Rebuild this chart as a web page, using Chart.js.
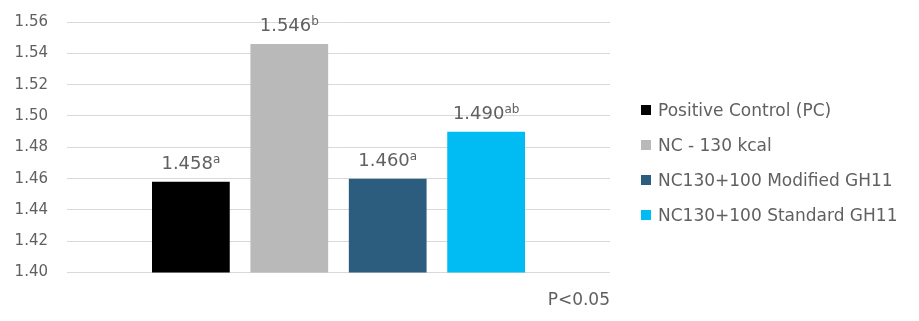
<!DOCTYPE html>
<html>
<head>
<meta charset="utf-8">
<script src="https://cdn.jsdelivr.net/npm/chart.js@4/dist/chart.umd.min.js"></script>
<style>
html,body{margin:0;padding:0;background:#fff;}
#wrap{width:919px;height:321px;position:relative;}
#legend{position:absolute;left:641px;top:0;font-family:'DejaVu Sans',sans-serif;font-size:17px;color:#606060;}
#legend .row{position:absolute;left:0;height:22px;line-height:22px;white-space:nowrap;}
#legend .sw{position:absolute;left:0;top:6px;width:10px;height:10px;}
#legend .tx{position:absolute;left:17px;top:0;}
</style>
</head>
<body>
<div id="wrap"><canvas id="c" width="919" height="321"></canvas><div id="legend"></div></div>
<script>
const categories = [''];
const seriesNames = ['Positive Control (PC)', 'NC - 130 kcal', 'NC130+100 Modified GH11', 'NC130+100 Standard GH11'];
const seriesValues = [1.458, 1.546, 1.460, 1.490];
const seriesLetters = ['a', 'b', 'a', 'ab'];
const seriesColors = ['#000000', '#b9b9b9', '#2c5d7f', '#00bcf2'];
const yTicks = [1.40, 1.42, 1.44, 1.46, 1.48, 1.50, 1.52, 1.54, 1.56];
const noteText = 'P<0.05';

const FONT = "'DejaVu Sans', sans-serif";
const GREY = '#606060';

// legend (HTML text)
const leg = document.getElementById('legend');
seriesNames.forEach((n, i) => {
  const r = document.createElement('div');
  r.className = 'row';
  r.style.top = (99 + i * 35) + 'px';
  const s = document.createElement('span');
  s.className = 'sw';
  s.style.background = seriesColors[i];
  const t = document.createElement('span');
  t.className = 'tx';
  t.textContent = n;
  r.appendChild(s); r.appendChild(t);
  leg.appendChild(r);
});

const labelPlugin = {
  id: 'valueLabels',
  afterDatasetsDraw(chart) {
    const ctx = chart.ctx;
    ctx.save();
    chart.data.datasets.forEach((ds, i) => {
      const meta = chart.getDatasetMeta(i);
      const el = meta.data[0];
      if (!el) return;
      const main = seriesValues[i].toFixed(3);
      const sup = seriesLetters[i];
      ctx.font = '18px ' + FONT;
      const w1 = ctx.measureText(main).width;
      ctx.font = '12px ' + FONT;
      const w2 = ctx.measureText(sup).width;
      const total = w1 + w2;
      const x0 = el.x - total / 2;
      const yb = el.y - 13;
      ctx.fillStyle = GREY;
      ctx.textBaseline = 'alphabetic';
      ctx.textAlign = 'left';
      ctx.font = '18px ' + FONT;
      ctx.fillText(main, x0, yb);
      ctx.font = '12px ' + FONT;
      ctx.fillText(sup, x0 + w1, yb - 6);
    });
    ctx.restore();
  }
};

new Chart(document.getElementById('c'), {
  type: 'bar',
  data: {
    labels: categories,
    datasets: seriesNames.map((n, i) => ({
      label: n,
      data: [seriesValues[i]],
      backgroundColor: seriesColors[i],
      borderWidth: 0
    }))
  },
  options: {
    responsive: false,
    animation: false,
    devicePixelRatio: 1,
    layout: { padding: { left: 15, right: 309, top: 22, bottom: 10 } },
    datasets: { bar: { categoryPercentage: 0.725, barPercentage: 0.79 } },
    plugins: {
      legend: { display: false },
      tooltip: { enabled: false }
    },
    scales: {
      x: {
        grid: { display: false },
        border: { display: false },
        ticks: { display: false },
        title: {
          display: true,
          text: noteText,
          align: 'end',
          color: GREY,
          font: { family: FONT, size: 17 },
          padding: { top: 10, bottom: 0 }
        },
        afterFit(axis) { axis.paddingLeft = 0; axis.paddingRight = 0; }
      },
      y: {
        min: yTicks[0],
        max: yTicks[yTicks.length - 1],
        afterBuildTicks(axis) { axis.ticks = yTicks.map(v => ({ value: v })); },
        afterFit(axis) { axis.width = 52; axis.paddingTop = 0; axis.paddingBottom = 0; },
        grid: { color: '#d9d9d9', lineWidth: 1, drawTicks: false },
        border: { display: false },
        ticks: {
          padding: 19,
          color: GREY,
          font: { family: FONT, size: 15 },
          callback: v => Number(v).toFixed(2)
        }
      }
    }
  },
  plugins: [labelPlugin]
});
</script>
</body>
</html>
